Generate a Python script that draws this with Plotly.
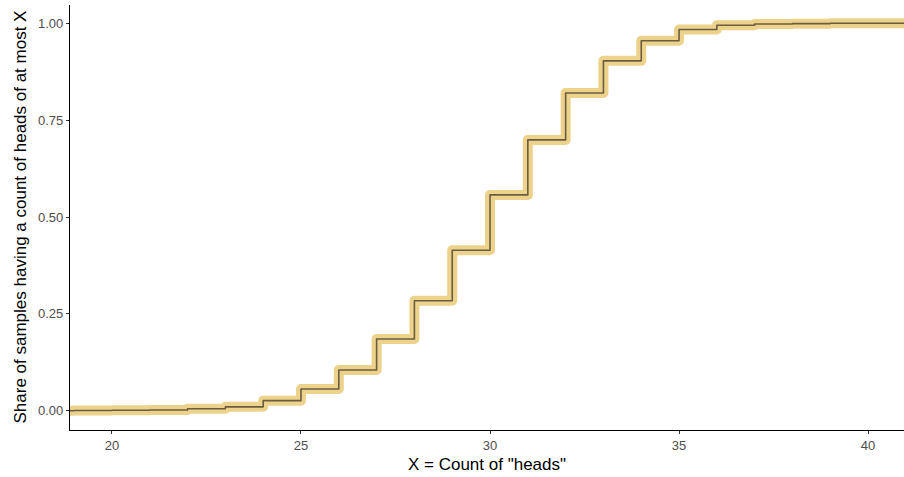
import plotly.graph_objects as go

# ECDF of count of heads (step function, value holds from x onward)
heads = [18.89, 19, 20, 21, 22, 23, 24, 25, 26, 27, 28, 29, 30, 31, 32, 33, 34, 35, 36, 37, 38, 39, 40.95]
share = [0.0, 0.0005, 0.001, 0.002, 0.005, 0.010, 0.026, 0.056, 0.105, 0.185, 0.284, 0.414,
         0.557, 0.699, 0.820, 0.903, 0.955, 0.984, 0.995, 0.998, 0.999, 1.0, 1.0]

x_ticks = [20, 25, 30, 35, 40]
y_ticks = [0, 0.25, 0.5, 0.75, 1.0]
y_tick_labels = ["0.00", "0.25", "0.50", "0.75", "1.00"]

fig = go.Figure()
fig.add_trace(go.Scatter(x=heads, y=share, mode="lines", line=dict(shape="hv", color="#EDD28B", width=10),
                         hoverinfo="skip"))
fig.add_trace(go.Scatter(x=heads, y=share, mode="lines", line=dict(shape="hv", color="#6B5D40", width=1.6)))

font = "Liberation Sans, Arial, sans-serif"
fig.update_layout(
    width=904, height=477,
    margin=dict(l=70, r=0, t=5, b=47, autoexpand=False),
    paper_bgcolor="white", plot_bgcolor="white",
    showlegend=False,
    font=dict(family=font, color="black"),
    xaxis=dict(range=[18.89, 40.95], tickvals=x_ticks, ticks="outside", ticklen=3, tickcolor="#333333",
               showline=True, linecolor="black", linewidth=1.2, showgrid=False, zeroline=False,
               automargin=False,
               tickfont=dict(size=13, color="#4D4D4D", family=font),
               title=dict(text='X = Count of "heads"', font=dict(size=17, family=font), standoff=6)),
    yaxis=dict(range=[-0.0498, 1.0472], tickvals=y_ticks, ticktext=y_tick_labels, ticks="outside", ticklen=3,
               tickcolor="#333333", showline=True, linecolor="black", linewidth=1.2, showgrid=False,
               zeroline=False, automargin=False, tickfont=dict(size=13, color="#4D4D4D", family=font)),
    annotations=[dict(text="Share of samples having a count of heads of at most X", textangle=-90,
                      xref="paper", yref="paper", x=-50 / 834, y=0.5, xanchor="center", yanchor="middle",
                      showarrow=False, font=dict(size=17, family=font, color="black"))],
)
post = ("document.body.style.margin='0';document.body.style.overflow='hidden';"
        "document.querySelectorAll('.js-line').forEach(function(p){p.style.strokeLinejoin='round';});")
fig.write_html("out.html", post_script=post, config={"displayModeBar": False})
